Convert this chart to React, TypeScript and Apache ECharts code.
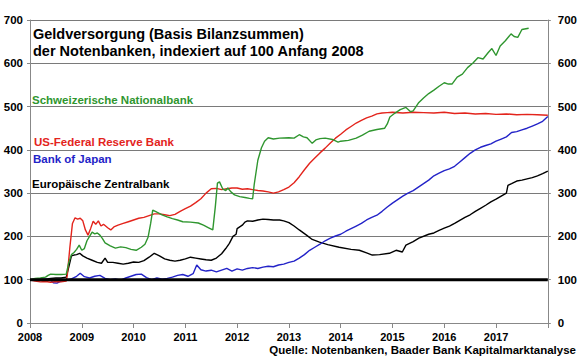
import React, { useEffect, useRef } from "react";
import * as echarts from "echarts";

const titleLines = [
  "Geldversorgung (Basis Bilanzsummen)",
  "der Notenbanken, indexiert auf 100 Anfang 2008",
];
const sourceText = "Quelle: Notenbanken, Baader Bank Kapitalmarktanalyse";
const seriesNames = [
  "Schweizerische Nationalbank",
  "US-Federal Reserve Bank",
  "Bank of Japan",
  "Europäische Zentralbank",
];
const seriesColors = ["#2f962f", "#e3241c", "#2323c8", "#000000"];
const yTicks = [0, 100, 200, 300, 400, 500, 600, 700];
const years = [2008, 2009, 2010, 2011, 2012, 2013, 2014, 2015, 2016, 2017, 2018];
const baseline = 100;

const snbData: [number, number][] = [
  [2008.0, 100], [2008.1, 103], [2008.2, 104], [2008.3, 106], [2008.35, 110], [2008.4, 113],
  [2008.5, 112], [2008.6, 112], [2008.7, 113], [2008.75, 140], [2008.8, 158], [2008.85, 163],
  [2008.9, 170], [2008.95, 180], [2009.0, 168], [2009.05, 172], [2009.1, 190], [2009.15, 200],
  [2009.2, 210], [2009.25, 206], [2009.3, 208], [2009.35, 203], [2009.4, 195], [2009.45, 185],
  [2009.55, 178], [2009.65, 173], [2009.75, 176], [2009.85, 174], [2009.95, 170], [2010.05, 168],
  [2010.15, 175], [2010.22, 182], [2010.28, 198], [2010.33, 230], [2010.37, 261], [2010.45, 256],
  [2010.55, 250], [2010.65, 245], [2010.75, 241], [2010.85, 238], [2010.95, 234], [2011.1, 233],
  [2011.25, 231], [2011.35, 226], [2011.45, 220], [2011.53, 215], [2011.58, 270], [2011.62, 323],
  [2011.66, 326], [2011.72, 310], [2011.78, 306], [2011.82, 312], [2011.88, 303], [2011.95, 296],
  [2012.05, 292], [2012.15, 290], [2012.24, 288], [2012.3, 287], [2012.33, 320], [2012.4, 376],
  [2012.47, 405], [2012.53, 420], [2012.6, 428], [2012.7, 425], [2012.82, 427], [2013.0, 428],
  [2013.1, 427], [2013.2, 435], [2013.28, 430], [2013.35, 428], [2013.45, 415], [2013.52, 423],
  [2013.6, 426], [2013.7, 427], [2013.84, 424], [2013.95, 418], [2014.0, 420], [2014.15, 422],
  [2014.3, 427], [2014.42, 434], [2014.55, 443], [2014.7, 447], [2014.85, 450], [2014.9, 460],
  [2014.95, 476], [2015.05, 485], [2015.15, 493], [2015.26, 498], [2015.35, 488], [2015.4, 490],
  [2015.5, 508], [2015.6, 520], [2015.7, 530], [2015.8, 538], [2015.9, 547], [2016.0, 555],
  [2016.08, 552], [2016.15, 552], [2016.25, 568], [2016.35, 575], [2016.45, 590], [2016.55, 600],
  [2016.65, 613], [2016.75, 610], [2016.85, 625], [2016.92, 634], [2017.0, 618], [2017.08, 640],
  [2017.18, 652], [2017.29, 668], [2017.35, 662], [2017.42, 660], [2017.5, 678], [2017.63, 681],
];

const fedData: [number, number][] = [
  [2008.0, 100], [2008.1, 97], [2008.2, 95], [2008.3, 96], [2008.4, 94], [2008.5, 96],
  [2008.6, 95], [2008.7, 97], [2008.72, 110], [2008.77, 175], [2008.82, 230], [2008.87, 243],
  [2008.92, 240], [2008.97, 242], [2009.02, 236], [2009.07, 215], [2009.12, 203], [2009.17, 218],
  [2009.22, 235], [2009.27, 228], [2009.32, 236], [2009.37, 224], [2009.42, 228], [2009.5, 220],
  [2009.56, 215], [2009.62, 222], [2009.7, 226], [2009.8, 230], [2009.9, 234], [2010.0, 238],
  [2010.1, 242], [2010.2, 244], [2010.3, 248], [2010.4, 252], [2010.5, 252], [2010.6, 250],
  [2010.7, 248], [2010.8, 251], [2010.9, 258], [2011.0, 264], [2011.1, 270], [2011.2, 278],
  [2011.3, 287], [2011.4, 300], [2011.5, 310], [2011.6, 311], [2011.7, 308], [2011.8, 310],
  [2011.9, 312], [2012.0, 312], [2012.1, 309], [2012.2, 310], [2012.3, 308], [2012.4, 306],
  [2012.5, 305], [2012.6, 303], [2012.7, 300], [2012.8, 303], [2012.9, 308], [2013.0, 314],
  [2013.1, 324], [2013.2, 338], [2013.3, 354], [2013.4, 369], [2013.5, 381], [2013.6, 393],
  [2013.7, 404], [2013.8, 416], [2013.9, 427], [2014.0, 436], [2014.1, 446], [2014.2, 454],
  [2014.3, 462], [2014.4, 468], [2014.5, 474], [2014.6, 478], [2014.7, 483], [2014.8, 485],
  [2014.9, 486], [2015.0, 487], [2015.2, 485], [2015.4, 487], [2015.6, 486], [2015.8, 485],
  [2016.0, 487], [2016.2, 484], [2016.4, 485], [2016.6, 483], [2016.8, 484], [2017.0, 482],
  [2017.2, 483], [2017.4, 481], [2017.6, 482], [2017.8, 481], [2018.0, 480],
];

const bojData: [number, number][] = [
  [2008.0, 100], [2008.1, 100], [2008.2, 99], [2008.3, 101], [2008.4, 98], [2008.45, 93],
  [2008.52, 92], [2008.6, 97], [2008.7, 99], [2008.8, 102], [2008.9, 108], [2008.97, 115],
  [2009.05, 107], [2009.15, 104], [2009.25, 108], [2009.35, 110], [2009.45, 103], [2009.55, 100],
  [2009.65, 102], [2009.75, 99], [2009.85, 104], [2009.95, 108], [2010.05, 112], [2010.15, 113],
  [2010.25, 105], [2010.35, 100], [2010.45, 104], [2010.55, 101], [2010.65, 103], [2010.75, 106],
  [2010.85, 110], [2010.95, 112], [2011.05, 108], [2011.15, 114], [2011.22, 134], [2011.3, 123],
  [2011.4, 120], [2011.5, 122], [2011.6, 118], [2011.7, 122], [2011.8, 126], [2011.9, 120],
  [2012.0, 125], [2012.1, 122], [2012.2, 126], [2012.3, 128], [2012.4, 126], [2012.5, 129],
  [2012.6, 131], [2012.7, 130], [2012.8, 134], [2012.9, 136], [2013.0, 140], [2013.1, 143],
  [2013.2, 150], [2013.3, 158], [2013.4, 168], [2013.5, 175], [2013.6, 182], [2013.7, 190],
  [2013.8, 196], [2013.9, 201], [2014.0, 205], [2014.1, 212], [2014.2, 218], [2014.3, 224],
  [2014.4, 230], [2014.5, 238], [2014.6, 244], [2014.7, 249], [2014.8, 258], [2014.9, 268],
  [2015.0, 277], [2015.1, 285], [2015.2, 293], [2015.3, 300], [2015.4, 306], [2015.5, 314],
  [2015.6, 322], [2015.7, 330], [2015.8, 340], [2015.9, 346], [2016.0, 352], [2016.1, 356],
  [2016.2, 362], [2016.3, 372], [2016.4, 382], [2016.5, 392], [2016.6, 400], [2016.7, 406],
  [2016.8, 410], [2016.9, 414], [2017.0, 420], [2017.1, 425], [2017.2, 430], [2017.3, 440],
  [2017.4, 442], [2017.5, 446], [2017.6, 450], [2017.7, 455], [2017.8, 460], [2017.9, 466],
  [2018.0, 477],
];

const ecbData: [number, number][] = [
  [2008.0, 100], [2008.1, 101], [2008.2, 102], [2008.3, 101], [2008.4, 103], [2008.5, 104],
  [2008.6, 104], [2008.7, 106], [2008.75, 130], [2008.8, 155], [2008.85, 157], [2008.9, 158],
  [2008.96, 161], [2009.02, 155], [2009.1, 150], [2009.2, 145], [2009.3, 140], [2009.38, 138],
  [2009.45, 150], [2009.5, 140], [2009.6, 140], [2009.7, 138], [2009.8, 136], [2009.9, 138],
  [2010.0, 141], [2010.1, 140], [2010.2, 144], [2010.3, 152], [2010.4, 161], [2010.5, 155],
  [2010.6, 148], [2010.7, 145], [2010.8, 143], [2010.9, 145], [2011.0, 148], [2011.1, 152],
  [2011.2, 150], [2011.3, 148], [2011.4, 146], [2011.5, 145], [2011.6, 150], [2011.7, 160],
  [2011.78, 172], [2011.85, 184], [2011.92, 200], [2011.98, 205], [2012.0, 218], [2012.1, 226],
  [2012.15, 233], [2012.2, 236], [2012.3, 235], [2012.4, 238], [2012.5, 240], [2012.6, 239],
  [2012.7, 238], [2012.82, 238], [2012.9, 236], [2013.0, 232], [2013.1, 224], [2013.2, 215],
  [2013.34, 203], [2013.45, 193], [2013.59, 187], [2013.75, 181], [2013.97, 175], [2014.2, 170],
  [2014.36, 168], [2014.5, 162], [2014.61, 157], [2014.75, 158], [2014.94, 161], [2015.07, 168],
  [2015.19, 164], [2015.26, 180], [2015.4, 188], [2015.51, 196], [2015.7, 205], [2015.8, 208],
  [2015.9, 214], [2016.0, 219], [2016.1, 224], [2016.2, 230], [2016.3, 237], [2016.4, 244],
  [2016.5, 250], [2016.6, 258], [2016.7, 265], [2016.8, 272], [2016.9, 280], [2017.0, 286],
  [2017.1, 293], [2017.2, 300], [2017.23, 318], [2017.3, 322], [2017.4, 328], [2017.5, 330],
  [2017.6, 333], [2017.7, 336], [2017.8, 340], [2017.9, 345], [2018.0, 351],
];

const FONT = "'Liberation Sans', Arial, sans-serif";

function label(text: string, x: number, y: number, size: number, fill: string, align = "left") {
  return {
    type: "text",
    x,
    y,
    style: {
      text,
      font: `bold ${size}px ${FONT}`,
      fill,
      align,
      verticalAlign: "middle",
    },
  };
}

export default function App() {
  const ref = useRef<HTMLDivElement>(null);
  useEffect(() => {
    if (!ref.current) return;
    const chart = echarts.init(ref.current, null, { renderer: "svg" });
    const allData = [snbData, fedData, bojData, ecbData];
    const axisLabelStyle = {
      fontFamily: FONT,
      fontWeight: "bold" as const,
      fontSize: 11.5,
      color: "#000",
      margin: 8,
    };
    chart.setOption({
      animation: false,
      backgroundColor: "#ffffff",
      textStyle: { fontFamily: FONT },
      grid: { left: 30, right: 31, top: 20, bottom: 35, containLabel: false },
      xAxis: {
        type: "value",
        min: years[0],
        max: years[years.length - 1],
        interval: 1,
        axisLine: { show: true, lineStyle: { color: "#888", width: 1 } },
        axisTick: { show: true, length: 5, lineStyle: { color: "#888" } },
        splitLine: { show: false },
        axisLabel: {
          ...axisLabelStyle,
          fontSize: 11,
          margin: 8,
          formatter: (v: number) => (v === years[years.length - 1] ? "" : String(v)),
        },
      },
      yAxis: [
        {
          type: "value",
          min: yTicks[0],
          max: yTicks[yTicks.length - 1],
          interval: 100,
          position: "left",
          axisLine: { show: true, lineStyle: { color: "#888" } },
          axisTick: { show: true, length: 3, lineStyle: { color: "#888" } },
          splitLine: { show: true, lineStyle: { color: "#7a7a7a", width: 1 } },
          axisLabel: { ...axisLabelStyle, margin: 7 },
        },
        {
          type: "value",
          min: yTicks[0],
          max: yTicks[yTicks.length - 1],
          interval: 100,
          position: "right",
          axisLine: { show: true, lineStyle: { color: "#888" } },
          axisTick: { show: true, length: 3, lineStyle: { color: "#888" } },
          splitLine: { show: false },
          axisLabel: { ...axisLabelStyle, margin: 10 },
        },
      ],
      series: [
        ...allData.map((d, i) => ({
          type: "line",
          name: seriesNames[i],
          data: d,
          showSymbol: false,
          symbol: "none",
          lineStyle: { color: seriesColors[i], width: 1.4 },
          z: 3 + (3 - i),
        })),
        {
          type: "line",
          name: "Basis",
          data: [
            [years[0], baseline],
            [years[years.length - 1], baseline],
          ],
          symbol: "none",
          lineStyle: { color: "#000", width: 3 },
          z: 10,
        },
      ],
      graphic: [
        label(titleLines[0], 33, 34, 14.5, "#000"),
        label(titleLines[1], 33, 51, 14.5, "#000"),
        label(seriesNames[0], 32, 100, 11.5, seriesColors[0]),
        label(seriesNames[1], 34, 142, 11.5, seriesColors[1]),
        label(seriesNames[2], 33, 159, 11.5, seriesColors[2]),
        label(seriesNames[3], 32, 184, 11.5, seriesColors[3]),
        label(sourceText, 576, 350, 11.5, "#000", "right"),
      ],
    });
    return () => chart.dispose();
  }, []);
  return (
    <div
      ref={ref}
      style={{ width: 580, height: 358, position: "absolute", left: 0, top: 0, background: "#fff" }}
    />
  );
}
